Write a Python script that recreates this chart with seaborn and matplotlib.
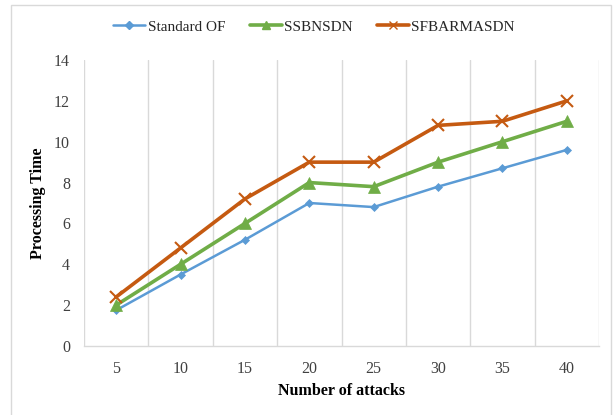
import matplotlib
matplotlib.use("Agg")
import matplotlib.pyplot as plt
from matplotlib.patches import Rectangle
from matplotlib.lines import Line2D
import pandas as pd
import seaborn as sns

# Chart data
attacks = [5, 10, 15, 20, 25, 30, 35, 40]
standard_of = [1.75, 3.5, 5.2, 7.0, 6.8, 7.8, 8.7, 9.6]
ssbnsdn = [2.0, 4.0, 6.0, 8.0, 7.8, 9.0, 10.0, 11.0]
sfbarmasdn = [2.4, 4.8, 7.2, 9.0, 9.0, 10.8, 11.0, 12.0]
series_names = ["Standard OF", "SSBNSDN", "SFBARMASDN"]
y_ticks = [0, 2, 4, 6, 8, 10, 12, 14]

sns.set_theme(style="white")
plt.rcParams["font.family"] = ["Liberation Serif", "DejaVu Serif"]

rows = []
for name, vals in zip(series_names, [standard_of, ssbnsdn, sfbarmasdn]):
    for i, (a, v) in enumerate(zip(attacks, vals)):
        rows.append({"pos": i, "attacks": a, "value": v, "series": name})
df = pd.DataFrame(rows)

palette = {"Standard OF": "#5B9BD5", "SSBNSDN": "#70AD47", "SFBARMASDN": "#C55A11"}
markers = {"Standard OF": "D", "SSBNSDN": "^", "SFBARMASDN": "x"}
widths = {"Standard OF": 1.8, "SSBNSDN": 2.6, "SFBARMASDN": 2.6}
msizes = {"Standard OF": 4.5, "SSBNSDN": 8, "SFBARMASDN": 8}

fig = plt.figure(figsize=(6.13, 4.15), dpi=100)
ax = fig.add_axes([84 / 613, 69 / 415, 515 / 613, 286 / 415])

for name in series_names:
    sub = df[df["series"] == name]
    sns.lineplot(data=sub, x="pos", y="value", ax=ax, color=palette[name],
                 lw=widths[name], marker=markers[name], markersize=msizes[name],
                 markerfacecolor=palette[name], markeredgecolor=palette[name],
                 markeredgewidth=1.5 if name == "SFBARMASDN" else 0.5,
                 zorder=3)

ax.set_xlim(-0.5, len(attacks) - 0.5)
ax.set_ylim(0, 14)
ax.set_yticks(y_ticks)
ax.set_yticklabels([str(t) for t in y_ticks])
ax.set_xticks(range(len(attacks)))
ax.set_xticklabels([str(a) for a in attacks])

# vertical gridlines at category boundaries
for b in range(len(attacks) + 1):
    ax.axvline(b - 0.5, color="#d9d9d9", lw=1.0, zorder=0)

for side in ["top", "right", "left"]:
    ax.spines[side].set_visible(False)
ax.spines["bottom"].set_color("#d9d9d9")
ax.spines["bottom"].set_linewidth(1.0)

ax.tick_params(axis="both", length=0, labelsize=11.5)
ax.tick_params(axis="x", pad=11)
ax.tick_params(axis="y", pad=10)
for lbl in ax.get_xticklabels() + ax.get_yticklabels():
    lbl.set_color("#404040")

ax.set_xlabel("Number of attacks", fontsize=11.5, fontweight="bold", color="#000000", labelpad=4)
ax.set_ylabel("Processing Time", fontsize=11.5, fontweight="bold", color="#000000", labelpad=6)

# legend
handles = [Line2D([0], [0], color=palette[n], lw=widths[n], marker=markers[n],
                  markersize=msizes[n] * 0.8, markerfacecolor=palette[n],
                  markeredgecolor=palette[n]) for n in series_names]
fig.legend(handles, series_names, loc="center", ncol=3, frameon=False,
           bbox_to_anchor=(314 / 613, 1 - 27 / 415), fontsize=11, handlelength=2.1,
           columnspacing=1.6, handletextpad=0.15)

# chart area border
fig.patches.append(Rectangle((11 / 613, -0.01), 600 / 613, 1 - 5 / 415 + 0.01,
                             transform=fig.transFigure, fill=False,
                             edgecolor="#d9d9d9", lw=1.0))

fig.savefig("out.png", dpi=100, facecolor="white")
